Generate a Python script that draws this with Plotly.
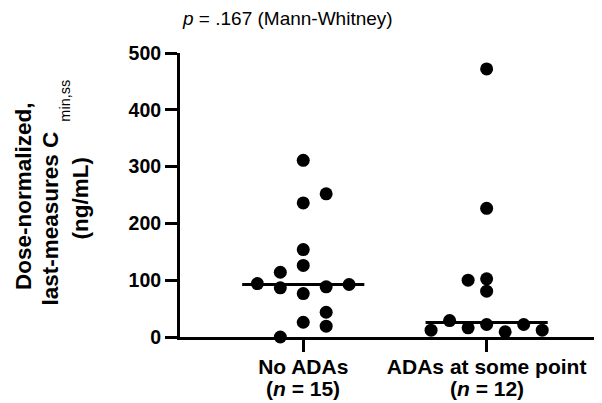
import numpy as np
import plotly.graph_objects as go

# ---- data ----
categories = ["No ADAs", "ADAs at some point"]
group_sizes = ["(<i>n</i> = 15)", "(<i>n</i> = 12)"]
no_ada_values = [311, 252, 236, 154, 126, 114, 94, 86.6, 76.5, 88.3, 92.4, 43.6, 26, 19, 0]
no_ada_slots = [0, 1, 0, 0, 0, -1, -2, -1, 0, 1, 2, 1, 0, 1, -1]
ada_values = [472, 226.6, 100, 102.4, 80.6, 29, 12, 16.2, 22, 9.1, 22, 12]
ada_slots = [0, 0, -1, 0, 0, -2, -3, -1, 0, 1, 2, 3]
y_ticks = [0, 100, 200, 300, 400, 500]
p_text = "<i>p</i> = .167 (Mann-Whitney)"
ytitle_lines = ["Dose-normalized,", "last-measures C", "(ng/mL)"]
ytitle_sub = "min,ss"

groups = [(no_ada_values, no_ada_slots, 0.125), (ada_values, ada_slots, 0.101)]

# page offset of the figure (browser body margin) and layout geometry
OFF = 8
W, H = 594, 395
ML, MR, MT, MB = 172, 0, 45.3, 65.5
PW = W - ML - MR
PH = H - MT - MB


def px(xp):
    return (xp - OFF - ML) / PW


def py(yp):
    return (H - MB - (yp - OFF)) / PH


fig = go.Figure()
for i, (vals, slots, spacing) in enumerate(groups):
    med = float(np.median(vals))
    fig.add_trace(go.Scatter(
        x=[i - 0.333, i + 0.333], y=[med, med], mode="lines",
        line=dict(color="black", width=3), showlegend=False, hoverinfo="skip",
        cliponaxis=False))
    fig.add_trace(go.Scatter(
        x=[i + s * spacing for s in slots], y=vals, mode="markers",
        marker=dict(color="black", size=13), showlegend=False, cliponaxis=False))

fig.update_layout(
    width=W, height=H,
    margin=dict(l=ML, r=MR, t=MT, b=MB, autoexpand=False),
    plot_bgcolor="white", paper_bgcolor="white",
    font=dict(family="Liberation Sans, Arial, sans-serif", color="black"),
    showlegend=False,
)
fig.update_xaxes(
    range=[-0.672, 1.629], tickmode="array", tickvals=[0, 1], ticktext=categories,
    showgrid=False, zeroline=False, showline=True, linecolor="black", linewidth=3,
    ticks="outside", ticklen=12, tickwidth=3, tickcolor="black",
    tickfont=dict(size=21, weight="bold"), automargin=False, ticklabelstandoff=-3,
)
fig.update_yaxes(
    range=[0, 500], tickmode="array", tickvals=y_ticks,
    showgrid=False, zeroline=False, showline=True, linecolor="black", linewidth=3,
    ticks="outside", ticklen=12, tickwidth=3, tickcolor="black",
    tickfont=dict(size=19.5, weight="bold"), automargin=False,
)
# second line of each category label: group size
for i, txt in enumerate(group_sizes):
    fig.add_annotation(
        text="<b>" + txt + "</b>", xref="x", yref="paper", x=i, y=py(389.5),
        xanchor="center", yanchor="middle", showarrow=False, font=dict(size=21),
    )
fig.add_annotation(
    text=p_text, xref="paper", yref="paper", x=px(287), y=py(19),
    xanchor="center", yanchor="middle", showarrow=False, font=dict(size=19),
    borderpad=0,
)
# y-axis title, one line per annotation
for txt, xc, yc in [(ytitle_lines[0], 23, 196.5), (ytitle_lines[1], 51, 219),
                    (ytitle_lines[2], 80.5, 199.5)]:
    fig.add_annotation(
        text="<b>" + txt + "</b>", xref="paper", yref="paper", x=px(xc), y=py(yc),
        xanchor="center", yanchor="middle", textangle=-90, showarrow=False,
        font=dict(size=22.5),
    )
fig.add_annotation(
    text=ytitle_sub, xref="paper", yref="paper", x=px(65), y=py(101),
    xanchor="center", yanchor="middle", textangle=-90, showarrow=False,
    font=dict(size=14.5),
)
fig.write_html("out.html")
